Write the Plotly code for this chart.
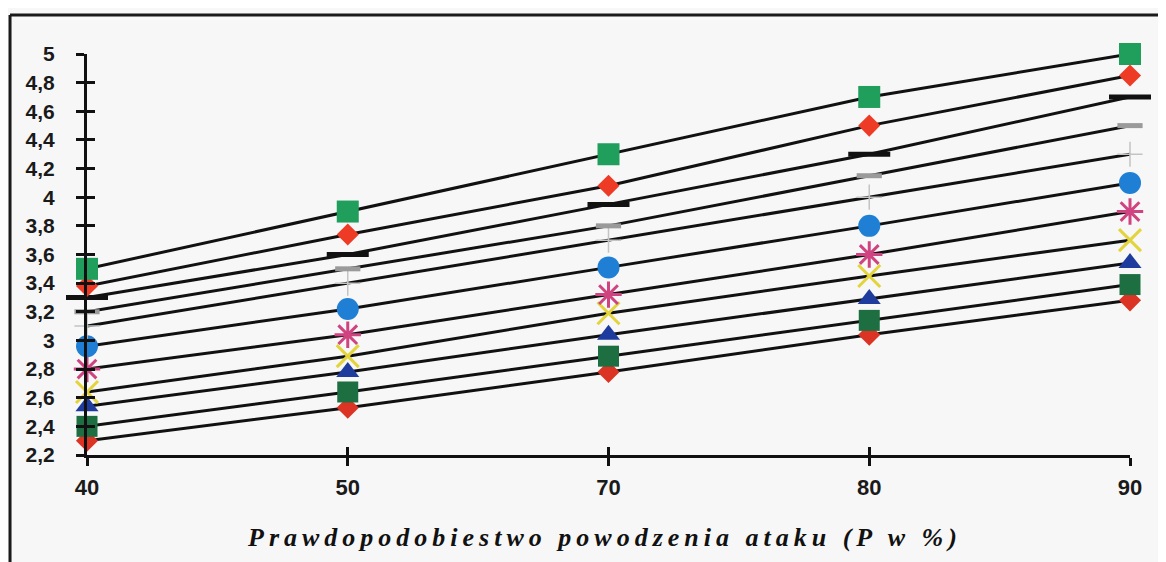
import plotly.graph_objects as go

categories = ["40", "50", "70", "80", "90"]

s_green_square = [3.5, 3.9, 4.3, 4.7, 5.0]
s_red_diamond_top = [3.38, 3.74, 4.08, 4.5, 4.85]
s_black_dash = [3.3, 3.6, 3.95, 4.3, 4.7]
s_gray_dash = [3.2, 3.5, 3.8, 4.15, 4.5]
s_gray_cross = [3.1, 3.4, 3.7, 4.0, 4.3]
s_blue_circle = [2.96, 3.22, 3.51, 3.8, 4.1]
s_magenta_star = [2.8, 3.04, 3.32, 3.6, 3.9]
s_yellow_x = [2.64, 2.89, 3.19, 3.45, 3.7]
s_blue_triangle = [2.54, 2.78, 3.04, 3.29, 3.54]
s_dark_green_square = [2.4, 2.64, 2.89, 3.14, 3.39]
s_red_diamond_bottom = [2.3, 2.53, 2.78, 3.04, 3.28]

y_tickvals = [2.2, 2.4, 2.6, 2.8, 3.0, 3.2, 3.4, 3.6, 3.8, 4.0, 4.2, 4.4, 4.6, 4.8, 5.0]
y_ticktext = ["2,2", "2,4", "2,6", "2,8", "3", "3,2", "3,4", "3,6", "3,8", "4", "4,2", "4,4", "4,6", "4,8", "5"]

x_title = "Prawdopodobiestwo powodzenia ataku (P w %)"

# (values, symbol, size, fill colour, marker line colour, marker line width)
series = [
    (s_red_diamond_bottom, "diamond", 17, "#dc3424", "#dc3424", 0),
    (s_dark_green_square, "square", 21, "#1d6e40", "#1d6e40", 0),
    (s_blue_triangle, "triangle-up", 20, "#1d3c9e", "#1d3c9e", 0),
    (s_yellow_x, "x-thin-open", 22, "#e2d43a", "#e2d43a", 3),
    (s_magenta_star, "asterisk-open", 22, "#cf4480", "#cf4480", 3),
    (s_blue_circle, "circle", 22, "#1f7fd4", "#1f7fd4", 0),
    (s_gray_cross, "cross-thin-open", 18, "#c4c4c4", "#c4c4c4", 1.5),
    (s_gray_dash, "line-ew-open", 18, "#9a9a9a", "#9a9a9a", 5),
    (s_black_dash, "line-ew-open", 30, "#111111", "#111111", 5),
    (s_red_diamond_top, "diamond", 17, "#ee3b25", "#ee3b25", 0),
    (s_green_square, "square", 22, "#1f9e5c", "#1f9e5c", 0),
]

fig = go.Figure()
for vals, sym, size, fill, lcol, lw in series:
    fig.add_trace(go.Scatter(
        x=categories, y=vals, mode="lines+markers",
        line=dict(color="#111111", width=3),
        marker=dict(symbol=sym, size=size, color=fill,
                    line=dict(color=lcol, width=lw)),
        cliponaxis=False, showlegend=False, hoverinfo="skip",
    ))

# invisible trace on overlay axes (for the inward half of the crossing ticks)
fig.add_trace(go.Scatter(x=[0], y=[2.2], xaxis="x2", yaxis="y2",
                         mode="markers", marker=dict(opacity=0),
                         showlegend=False, hoverinfo="skip"))

fig.update_layout(
    width=1166, height=562,
    margin=dict(l=79, r=44, t=46, b=115, autoexpand=False),
    paper_bgcolor="#f7f7f7", plot_bgcolor="#f7f7f7",
    xaxis=dict(type="category", range=[0, 4], showgrid=False, zeroline=False,
               tickvals=categories, ticktext=["<b>%s</b>" % c for c in categories],
               showline=True, linecolor="#111111", linewidth=3,
               ticks="outside", ticklen=8, tickwidth=2.5, tickcolor="#111111",
               tickfont=dict(family="Liberation Sans", size=22, color="#1a1a1a"),
               ticklabelstandoff=3, automargin=False),
    yaxis=dict(range=[2.2, 5], tickvals=y_tickvals,
               ticktext=["<b>%s</b>" % t for t in y_ticktext],
               showgrid=False, zeroline=False,
               showline=True, linecolor="#111111", linewidth=3,
               ticks="outside", ticklen=8, tickwidth=2.5, tickcolor="#111111",
               tickfont=dict(family="Liberation Sans", size=21, color="#1a1a1a"),
               ticklabelstandoff=17, automargin=False),
    xaxis2=dict(overlaying="x", range=[0, 4], tickvals=[0, 1, 2, 3, 4],
                showticklabels=False, showgrid=False, zeroline=False,
                showline=False, ticks="inside", ticklen=8, tickwidth=2.5,
                tickcolor="#111111", side="bottom", anchor="y", automargin=False),
    yaxis2=dict(overlaying="y", range=[2.2, 5], tickvals=y_tickvals,
                showticklabels=False, showgrid=False, zeroline=False,
                showline=False, ticks="inside", ticklen=8, tickwidth=2.5,
                tickcolor="#111111", side="left", anchor="x", automargin=False),
    font=dict(family="Liberation Sans"),
)

fig.add_annotation(
    xref="paper", yref="paper", x=0.4957, y=-0.2045,
    xanchor="center", yanchor="middle", showarrow=False,
    text='<span style="letter-spacing:5px"><b><i>%s</i></b></span>' % x_title,
    font=dict(family="Liberation Serif", size=26, color="#111111"),
)

# scanned frame (top and left edges)
fig.add_shape(type="line", xref="paper", yref="paper",
              x0=-0.0738, x1=1.0345, y0=1.0973, y1=1.0973,
              line=dict(color="#1a1a1a", width=3))
fig.add_shape(type="line", xref="paper", yref="paper",
              x0=-0.0738, x1=-0.0738, y0=1.0973, y1=-0.2668,
              line=dict(color="#1a1a1a", width=3))

fig.write_html("out.html")
